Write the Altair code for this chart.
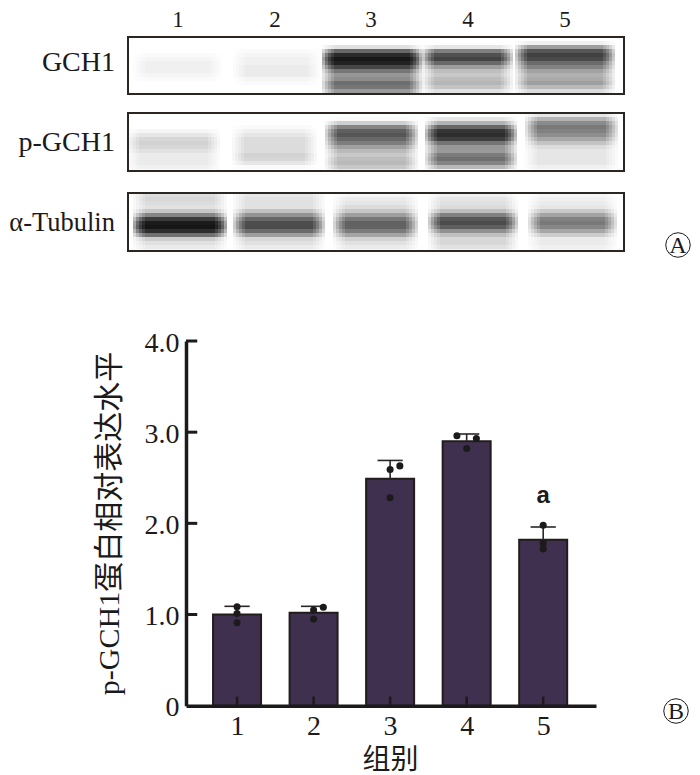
import altair as alt
import pandas as pd

# ---------- blot data ----------
lane_numbers = ["1", "2", "3", "4", "5"]
lane_number_x = [178, 275, 371, 468, 565]
panel_names = ["GCH1", "p-GCH1", "α-Tubulin"]
panel_top = [37, 113, 193]
panel_bottom = [94, 171, 251]
panel_left = 128
panel_right = 624
lane_left = [[138, 238, 327, 427, 520], [132, 237, 330, 430, 530], [138, 238, 338, 433, 533]]
lane_right = [[217, 315, 417, 508, 610], [215, 312, 413, 512, 613], [222, 320, 413, 513, 612]]
gch1 = [
    [0, 0, 0, 0, .02, .05, .07, .08, .06, .03, .01, 0, 0, 0],
    [0, 0, 0, .02, .03, .05, .07, .08, .09, .08, .04, .01, 0, 0],
    [0, 0, 0, .3, .9, .92, .85, .72, .4, .3, .45, .5, .66, .32],
    [0, 0, 0, .25, .82, .72, .55, .36, .16, .15, .26, .28, .26, .08],
    [0, 0, .15, .7, .82, .62, .55, .5, .3, .16, .38, .38, .32, .08],
]
pgch1 = [
    [0, 0, 0, 0, .02, .09, .15, .17, .15, .1, .07, .07, .09, .04],
    [0, 0, 0, .02, .05, .1, .13, .15, .12, .12, .16, .22, .06, .02],
    [0, 0, .05, .42, .72, .62, .58, .52, .36, .18, .2, .22, .3, .26],
    [0, 0, .25, .52, .8, .88, .7, .48, .3, .36, .48, .62, .5, .16],
    [0, .25, .5, .52, .48, .42, .36, .18, .1, .1, .08, .1, .1, .05],
]
tubulin = [
    [.15, .2, .08, .1, .15, .35, .72, .92, .92, .85, .3, .12, .12, .12],
    [.12, .15, .06, .1, .18, .38, .6, .7, .72, .62, .22, .12, .12, .1],
    [.03, .08, .1, .12, .14, .36, .54, .62, .62, .55, .26, .1, .1, .12],
    [.08, .12, .1, .1, .14, .42, .7, .74, .62, .38, .14, .12, .15, .15],
    [.03, .08, .08, .1, .12, .36, .52, .55, .46, .34, .1, .08, .08, .1],
]
panel_rows = [gch1, pgch1, tubulin]

# ---------- bar chart data ----------
groups = [1, 2, 3, 4, 5]
means = [1.0, 1.02, 2.49, 2.90, 1.82]
upper = [1.09, 1.09, 2.69, 2.98, 1.96]
dot_group = [1, 1, 1, 2, 2, 2, 3, 3, 3, 4, 4, 4, 5, 5, 5]
dot_shift = [0, 0, 0, .127, 0, 0, .127, 0, 0, -.127, .127, 0, 0, 0, 0]
dot_value = [1.085, 1.01, .91, 1.08, 1.05, .95, 2.63, 2.59, 2.28, 2.96, 2.93, 2.82, 1.98, 1.78, 1.72]
y_ticks = [1, 2, 3, 4]

SERIF = "Liberation Serif, Noto Sans CJK SC"
INK = "#1c1a1a"
CHART_W = 684
CHART_H = 767

# blot textures: overlapping soft rectangles
cells = []
insets = (-5, -2, 1, 4, 7)
for p, rows in enumerate(panel_rows):
    for lane, col in enumerate(rows):
        for r, d in enumerate(col):
            if d <= 0:
                continue
            alpha = 1 - (1 - min(d, .97)) ** (1 / 15)
            cy = panel_top[p] + 2 + 4 * r
            for inset in insets:
                cells.append(dict(
                    x=lane_left[p][lane] + inset, x2=lane_right[p][lane] - inset,
                    y=max(cy - 6, panel_top[p]), y2=min(cy + 6, panel_bottom[p]), a=alpha))
cells = pd.DataFrame(cells)

px = alt.Scale(domain=[8, 8 + CHART_W], range=[0, CHART_W], nice=False, zero=False, padding=0)
py = alt.Scale(domain=[8, 8 + CHART_H], range=[0, CHART_H], nice=False, zero=False, padding=0)
PX = lambda f: alt.X(f, scale=px, axis=None, title=None)
PY = lambda f: alt.Y(f, scale=py, axis=None, title=None)

blots = alt.Chart(cells).mark_rect(color="#000000", strokeWidth=0).encode(
    x=PX("x:Q"), x2="x2:Q", y=PY("y:Q"), y2="y2:Q",
    opacity=alt.Opacity("a:Q", scale=None),
)
frames = alt.Chart(pd.DataFrame(dict(
    x=[panel_left] * 3, x2=[panel_right] * 3, y=panel_top, y2=panel_bottom
))).mark_rect(fillOpacity=0, stroke="#2b2622", strokeWidth=2).encode(
    x=PX("x:Q"), x2="x2:Q", y=PY("y:Q"), y2="y2:Q"
)
lane_text = alt.Chart(pd.DataFrame(dict(x=lane_number_x, t=lane_numbers, y=[19.5] * 5))).mark_text(
    font=SERIF, fontSize=23, color=INK
).encode(x=PX("x:Q"), y=PY("y:Q"), text="t:N")
name_text = alt.Chart(pd.DataFrame(dict(
    x=[115, 115, 115], y=[63, 143, 223], t=panel_names, s=[28, 28, 26.5]
))).mark_text(font=SERIF, color=INK, align="right", baseline="middle").encode(
    x=PX("x:Q"), y=PY("y:Q"), text="t:N", size=alt.Size("s:Q", scale=None, legend=None)
)
circ = alt.Chart(pd.DataFrame(dict(x=[678, 676], y=[245, 711], t=["A", "B"]))).mark_point(
    shape="circle", size=600, filled=False, stroke=INK, strokeWidth=1, opacity=1
).encode(x=PX("x:Q"), y=PY("y:Q"))
circ_text = alt.Chart(pd.DataFrame(dict(x=[678, 676], y=[246, 712], t=["A", "B"]))).mark_text(
    font=SERIF, fontSize=24, color=INK
).encode(x=PX("x:Q"), y=PY("y:Q"), text="t:N")

# bar chart on its own scales
sx = alt.Scale(domain=[0.333, 5.69], range=[178, 588], nice=False, zero=False, padding=0)
sy = alt.Scale(domain=[0, 4], range=[697.7, 333], nice=False, zero=False, padding=0)
BX = lambda f: alt.X(f, scale=sx, axis=None, title=None)
BY = lambda f: alt.Y(f, scale=sy, axis=None, title=None)

bar_df = pd.DataFrame(dict(g=groups, m=means, u=upper,
                           l=[g - .165 for g in groups], r=[g + .165 for g in groups],
                           zero=[0] * 5, tip=[.1] * 5))
bars = alt.Chart(bar_df).mark_bar(size=48, color="#40304f", stroke="#201c1c", strokeWidth=2).encode(
    x=BX("g:Q"), y=BY("m:Q"),
)
x_axis = alt.Chart(bar_df).mark_rule(opacity=0).encode(
    x=alt.X("g:Q", scale=sx, title="组别", axis=alt.Axis(
        orient="bottom", offset=697.7 - CHART_H, values=groups, format="d", tickSize=0,
        domainWidth=3.5, domainColor=INK, labelFont=SERIF, labelFontSize=28, labelColor=INK,
        labelPadding=7, labelBaseline="top", grid=False, labelFlush=False, zindex=1,
        titleFont=SERIF, titleFontSize=28, titleFontWeight="normal", titleColor=INK,
        titleX=382, titleY=55, titleBaseline="middle")),
)
y_axis = alt.Chart(bar_df).mark_rule(opacity=0).encode(
    y=alt.Y("m:Q", scale=sy, title="p-GCH1蛋白相对表达水平", axis=alt.Axis(
        orient="left", offset=-178, values=[0, 1, 2, 3, 4], tickSize=0,
        labelExpr="datum.value === 0 ? '0' : format(datum.value, '.1f')",
        domainWidth=3.5, domainColor=INK, labelFont=SERIF, labelFontSize=28, labelColor=INK,
        labelPadding=7, labelOffset=2, grid=False, labelFlush=False, zindex=1,
        titleFont=SERIF, titleFontSize=30, titleFontWeight="normal", titleColor=INK,
        titleX=-77, titleY=515, titleAngle=270, titleBaseline="middle", titleAlign="center")),
)
err = alt.Chart(bar_df).mark_rule(color="#2a2626", strokeWidth=1.6).encode(
    x=BX("g:Q"), y=BY("m:Q"), y2="u:Q")
cap = alt.Chart(bar_df).mark_rule(color="#2a2626", strokeWidth=1.6).encode(
    x=BX("l:Q"), x2="r:Q", y=BY("u:Q"))
dots = alt.Chart(pd.DataFrame(dict(g=[a + b for a, b in zip(dot_group, dot_shift)], v=dot_value))).mark_circle(
    size=50, color=INK, opacity=1
).encode(x=BX("g:Q"), y=BY("v:Q"))
xticks = alt.Chart(bar_df).mark_rule(color=INK, strokeWidth=2.5).encode(
    x=BX("g:Q"), y=BY("zero:Q"), y2="tip:Q")
yticks = alt.Chart(pd.DataFrame(dict(v=y_ticks, a=[0.333] * 4, b=[0.48] * 4))).mark_rule(
    color=INK, strokeWidth=3
).encode(x=BX("a:Q"), x2="b:Q", y=BY("v:Q"))
sig = alt.Chart(pd.DataFrame(dict(g=[5], v=[2.3], t=["a"]))).mark_text(
    font="Liberation Sans", fontSize=24, fontWeight="bold", color=INK
).encode(x=BX("g:Q"), y=BY("v:Q"), text="t:N")

chart = alt.layer(
    blots, frames, lane_text, name_text, circ, circ_text,
    bars, err, cap, dots, xticks, yticks, sig, x_axis, y_axis,
).resolve_scale(x="independent", y="independent").properties(
    width=CHART_W, height=CHART_H, padding=0,
    autosize=alt.AutoSizeParams(type="none"),
).configure_view(stroke=None)

chart.save("out.html", embed_options={"renderer": "svg", "actions": False})
